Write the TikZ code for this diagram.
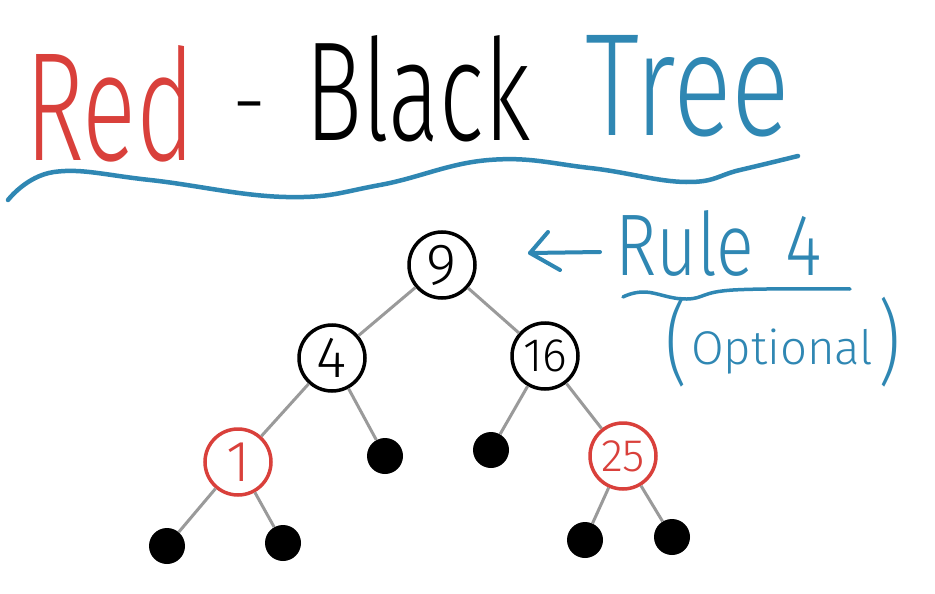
\documentclass[tikz,border=0pt]{standalone}
\usepackage{fontspec}
\setmainfont{Fira Sans Light}
\usepackage{graphicx}
\definecolor{hred}{HTML}{D9403B}
\definecolor{hblue}{HTML}{2F87B3}
\definecolor{hgray}{HTML}{9A9A9A}
\tikzset{
  tnode/.style={circle, draw=black, line width=3.5pt, minimum size=66pt, inner sep=0pt, font=\fontsize{58}{58}\selectfont},
  rnode/.style={tnode, draw=hred, text=hred},
  leaf/.style={circle, fill=black, minimum size=36pt, inner sep=0pt},
  edge/.style={draw=hgray, line width=3pt},
  title/.style={anchor=north west, inner sep=0pt},
  wave/.style={draw=hblue, line width=4.5pt, line cap=round, line join=round},
}
\newcommand{\twodig}[1]{\resizebox{44pt}{!}{#1}}
\begin{document}
\begin{tikzpicture}[x=1pt,y=-1pt]
\useasboundingbox[fill=white] (0,0) rectangle (935,594);
% title
\node[title, text=hred] (red) at (25,45) {\resizebox{170pt}{115pt}{Red}};
\node[anchor=north, inner sep=0pt] (dash) at (250,102) {\resizebox{34pt}{!}{-}};
\node[title] (black) at (305,35) {\resizebox{225pt}{105pt}{Black}};
\node[title, text=hblue] (tree) at (585,35) {\resizebox{205pt}{100pt}{Tree}};
\draw[wave] plot[smooth, tension=0.7] coordinates {(8,200) (54,172) (150,180) (286,197) (380,185) (489,160) (590,168) (686,182) (740,170) (798,156)};
% rule 4
\node[title, text=hblue] (rule) at (615,210) {\resizebox{207pt}{65pt}{Rule\hspace{0.45em}4}};
\node[title, text=hblue] (opt) at (665,297) {\resizebox*{22pt}{90pt}{(}\hspace{4pt}\raisebox{10pt}{\resizebox{182pt}{!}{Optional}}\hspace{5pt}\resizebox*{22pt}{90pt}{)}};
\draw[wave, line width=3.5pt] plot[smooth, tension=0.7] coordinates {(623,297) (645,292) (687,299) (733,290) (850,289)};
\coordinate (atip) at (530,253);
\coordinate (atail) at (600,252);
\coordinate (ahu) at (548,232);
\coordinate (ahl) at (560,270);
\draw[wave, line width=4pt] (atail) -- (atip);
\draw[wave, line width=4pt] (ahu) -- (atip) -- (ahl);
% tree
\node[tnode] (n9) at (442,265) {9};
\node[tnode] (n4) at (332,358) {4};
\node[tnode] (n16) at (545,356) {\twodig{16}};
\node[rnode] (n1) at (238,462) {1};
\node[leaf] (l4) at (385,456) {};
\node[leaf] (l16) at (491,450) {};
\node[rnode] (n25) at (623,456) {\twodig{25}};
\node[leaf] (l1a) at (167,546) {};
\node[leaf] (l1b) at (283,543) {};
\node[leaf] (l25a) at (585,540) {};
\node[leaf] (l25b) at (672,537) {};
\draw[edge] (n9) -- (n4);
\draw[edge] (n9) -- (n16);
\draw[edge] (n4) -- (n1);
\draw[edge] (n4) -- (l4);
\draw[edge] (n16) -- (l16);
\draw[edge] (n16) -- (n25);
\draw[edge] (n1) -- (l1a);
\draw[edge] (n1) -- (l1b);
\draw[edge] (n25) -- (l25a);
\draw[edge] (n25) -- (l25b);
\end{tikzpicture}
\end{document}
